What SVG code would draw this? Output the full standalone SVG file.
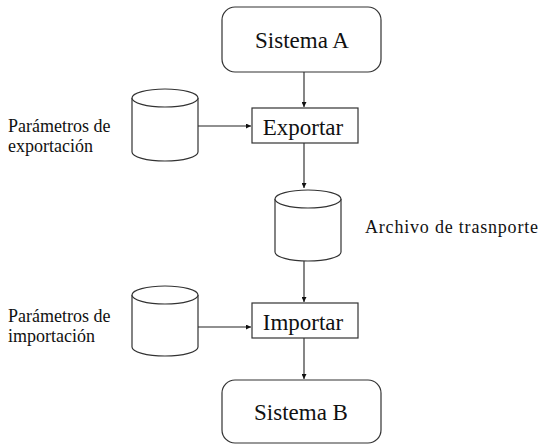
<svg xmlns="http://www.w3.org/2000/svg" width="542" height="444" viewBox="0 0 542 444">
  <style>
    .shape { fill: #ffffff; stroke: #333333; stroke-width: 1.2; }
    .conn { fill: none; stroke: #222222; stroke-width: 1.1; marker-end: url(#arrow); }
    text { fill: #111111; font-family: "Liberation Serif", "DejaVu Serif", serif; }
    .big { font-size: 23px; text-anchor: middle; }
    .lbl { font-size: 18px; }
  </style>
  <defs>
    <marker id="arrow" viewBox="0 0 10 10" refX="10" refY="5" markerWidth="5" markerHeight="5" markerUnits="userSpaceOnUse" orient="auto">
      <path d="M0,0 L10,5 L0,10 Z" fill="#111111"/>
    </marker>
  </defs>

  <rect width="542" height="444" fill="#ffffff"/>

  <g id="connectors">
    <line class="conn" x1="304" y1="72" x2="304" y2="107"/>
    <line class="conn" x1="198" y1="126" x2="251" y2="126"/>
    <line class="conn" x1="304" y1="143" x2="304" y2="188"/>
    <line class="conn" x1="304" y1="261" x2="304" y2="302"/>
    <line class="conn" x1="198" y1="327" x2="251" y2="327"/>
    <line class="conn" x1="304" y1="338" x2="304" y2="379"/>
  </g>

  <g id="sistema-a">
    <rect class="shape" x="222" y="7" width="159" height="65" rx="13"/>
    <text class="big" x="302" y="48">Sistema A</text>
  </g>

  <g id="exportar">
    <rect class="shape" x="252" y="108" width="106" height="35"/>
    <text class="big" x="303" y="135">Exportar</text>
  </g>

  <g id="param-export">
    <path class="shape" d="M132,98 L132,152 A33,9 0 0 0 198,152 L198,98 A33,9 0 0 0 132,98 Z"/>
    <path class="shape" d="M132,98 A33,9 0 0 0 198,98" fill="none"/>
    <text class="lbl" x="8" y="132">Parámetros de</text>
    <text class="lbl" x="8" y="152">exportación</text>
  </g>

  <g id="archivo">
    <path class="shape" d="M275,199 L275,252 A33,9 0 0 0 341,252 L341,199 A33,9 0 0 0 275,199 Z"/>
    <path class="shape" d="M275,199 A33,9 0 0 0 341,199" fill="none"/>
    <text class="lbl" x="365" y="233" font-size="20.5" textLength="173" lengthAdjust="spacing">Archivo de trasnporte</text>
  </g>

  <g id="param-import">
    <path class="shape" d="M132,295 L132,347 A33,9 0 0 0 198,347 L198,295 A33,9 0 0 0 132,295 Z"/>
    <path class="shape" d="M132,295 A33,9 0 0 0 198,295" fill="none"/>
    <text class="lbl" x="8" y="322">Parámetros de</text>
    <text class="lbl" x="8" y="342">importación</text>
  </g>

  <g id="importar">
    <rect class="shape" x="252" y="303" width="106" height="35"/>
    <text class="big" x="303" y="330">Importar</text>
  </g>

  <g id="sistema-b">
    <rect class="shape" x="222" y="380" width="159" height="63" rx="13"/>
    <text class="big" x="301" y="420">Sistema B</text>
  </g>
</svg>
